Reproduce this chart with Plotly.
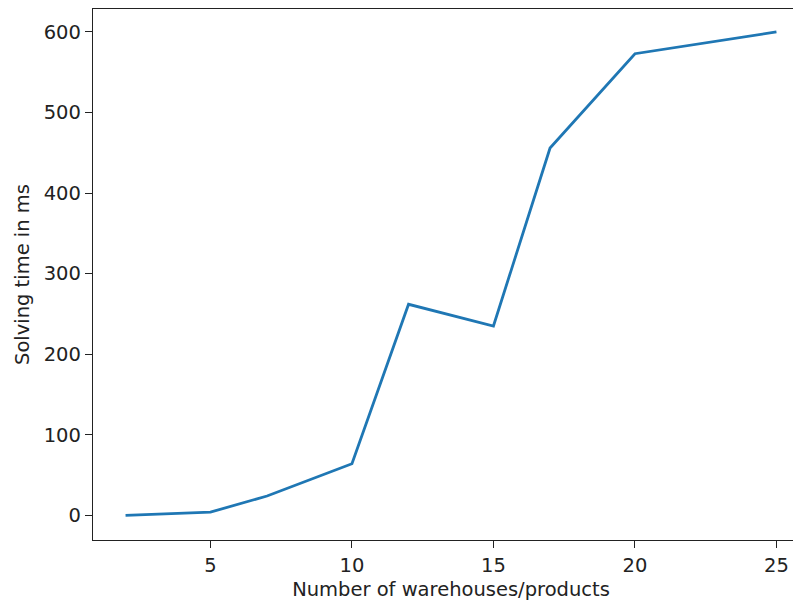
import plotly.graph_objects as go

warehouses = [2, 5, 7, 10, 12, 15, 17, 20, 25]
solving_ms = [0, 4, 24, 64, 262, 235, 456, 573, 600]
x_ticks = [5, 10, 15, 20, 25]
y_ticks = [0, 100, 200, 300, 400, 500, 600]

fig = go.Figure()
fig.add_trace(go.Scatter(x=warehouses, y=solving_ms, mode="lines",
                         line=dict(color="#1f77b4", width=2.8)))

font = dict(family="DejaVu Sans", size=19.5, color="#222222")
fig.update_layout(
    width=801, height=605,
    margin=dict(l=85, r=0, t=1, b=73),
    paper_bgcolor="white", plot_bgcolor="white",
    showlegend=False, font=font,
)
fig.update_xaxes(range=[0.85, 26.15], tickvals=x_ticks, ticks="outside", ticklen=7,
                 tickwidth=1.3, tickcolor="#222222", showline=True, linecolor="#222222",
                 linewidth=1.3, mirror=True, showgrid=False, zeroline=False,
                 title=dict(text="Number of warehouses/products", standoff=6, font=font),
                 tickfont=font)
fig.update_yaxes(range=[-30.6, 628.5], tickvals=y_ticks, ticks="outside", ticklen=7,
                 tickwidth=1.3, tickcolor="#222222", showline=True, linecolor="#222222",
                 linewidth=1.3, showgrid=False, zeroline=False,
                 title=dict(text="Solving time in ms", standoff=8, font=font),
                 tickfont=font)

fig.write_html("out.html")
